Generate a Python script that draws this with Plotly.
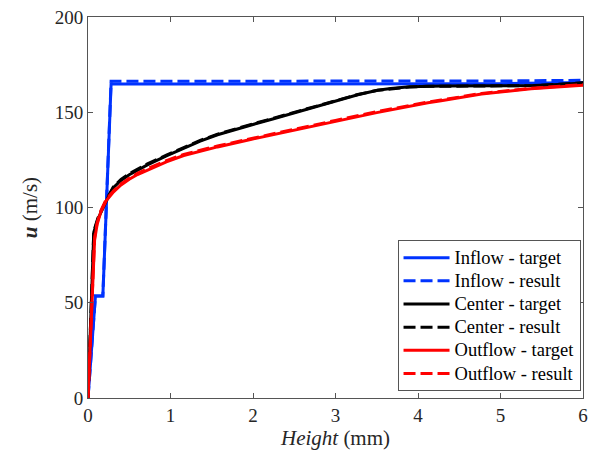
import plotly.graph_objects as go

# Inflow
inflow_x = [0, 0.09, 0.18, 0.28, 1, 2, 3, 4, 5, 6]
inflow_target = [0, 53.5, 53.5, 164.8, 164.8, 164.8, 164.8, 164.8, 165.0, 165.6]
inflow_result = [0, 53.5, 53.5, 166.3, 166.3, 166.3, 166.3, 166.3, 166.4, 166.8]

# Center
center_x = [0, 0.07, 0.12, 0.17, 0.24, 0.31, 0.4, 0.5, 0.6, 0.72, 0.95, 1.16, 1.36, 1.57, 1.77, 2.0, 2.25, 2.5, 2.9, 3.27, 3.51, 3.67, 3.9, 4.1, 4.3, 5.0, 5.4, 5.7, 6.0]
center_target = [0, 87, 94, 98.6, 105, 110.5, 114.2, 117.2, 119.7, 122.4, 127.1, 131.2, 134.9, 138.2, 140.8, 143.6, 146.6, 149.6, 154.6, 159.2, 161.5, 162.5, 163.4, 163.7, 163.8, 163.9, 164.0, 164.6, 165.3]
center_result = [0, 87.5, 94.5, 99.1, 105.5, 111.0, 114.7, 117.7, 120.2, 122.9, 127.5, 131.6, 135.2, 138.5, 141.1, 143.9, 146.9, 149.9, 154.8, 159.3, 161.5, 162.4, 163.3, 163.6, 163.7, 163.8, 164.0, 164.7, 165.5]

# Outflow
outflow_x = [0, 0.08, 0.11, 0.15, 0.22, 0.31, 0.4, 0.5, 0.6, 0.757, 0.95, 1.16, 1.57, 1.97, 2.46, 3.0, 3.27, 3.5, 4.12, 4.28, 4.77, 5.37, 6.0]
outflow_target = [0, 83, 91, 97, 103.5, 108.2, 111.8, 114.8, 117.3, 120.5, 124.0, 127.3, 131.8, 135.7, 140.2, 145.2, 147.6, 149.8, 155.0, 156.0, 159.6, 162.3, 164.2]
outflow_result = [0, 84, 91.8, 97.8, 104.2, 108.8, 112.4, 115.4, 117.9, 121.1, 124.6, 127.9, 132.3, 136.2, 140.7, 145.7, 148.1, 150.3, 155.4, 156.4, 159.9, 162.6, 164.5]

names = ["Inflow - target", "Inflow - result", "Center - target",
         "Center - result", "Outflow - target", "Outflow - result"]

BLUE = "#0033ff"
BLACK = "#000000"
RED = "#ff0000"
W = 3
DASH = "12px,5px"
SERIF = "Times New Roman, Liberation Serif, serif"
AXC = "#555555"


def lbl(s):
    return '<span style="font-size:18.5px">' + s + '</span>'


fig = go.Figure()
series = [
    (inflow_x, inflow_target, BLUE, None),
    (inflow_x, inflow_result, BLUE, DASH),
    (center_x, center_target, BLACK, None),
    (center_x, center_result, BLACK, DASH),
    (outflow_x, outflow_target, RED, None),
    (outflow_x, outflow_result, RED, DASH),
]
for (xs, ys, col, dsh), nm in zip(series, names):
    line = dict(color=col, width=W)
    if dsh:
        line["dash"] = dsh
    fig.add_trace(go.Scatter(x=xs, y=ys, mode="lines", name=lbl(nm), line=line,
                             hoverinfo="skip"))

axis_common = dict(
    showgrid=False, zeroline=False, showline=True, linecolor=AXC, linewidth=1,
    mirror="ticks", ticks="inside", ticklen=5, tickcolor=AXC, automargin=False,
    tickfont=dict(family=SERIF, size=19, color="#262626"),
)

fig.update_layout(
    template="none",
    width=590, height=461,
    margin=dict(l=88, r=7, t=17, b=63),
    paper_bgcolor="white", plot_bgcolor="white",
    font=dict(family=SERIF, color="#262626"),
    xaxis=dict(range=[0, 6], tickvals=[0, 1, 2, 3, 4, 5, 6],
               title=dict(text="<i>Height</i> (mm)", font=dict(family=SERIF, size=21), standoff=5),
               **axis_common),
    yaxis=dict(range=[0, 200], tickvals=[0, 50, 100, 150, 200],
               title=dict(text="<b><i>u</i></b> (m/s)", font=dict(family=SERIF, size=21), standoff=11),
               **axis_common),
    legend=dict(x=0.995, y=0.018, xanchor="right", yanchor="bottom",
                bgcolor="white", bordercolor=AXC, borderwidth=1,
                font=dict(family=SERIF, size=15.5, color="#000000"),
                tracegroupgap=0, itemwidth=46),
    showlegend=True,
)

fig.write_html("out.html", config={"displayModeBar": False},
               post_script="document.body.style.margin='0px';document.body.style.overflow='hidden';")
